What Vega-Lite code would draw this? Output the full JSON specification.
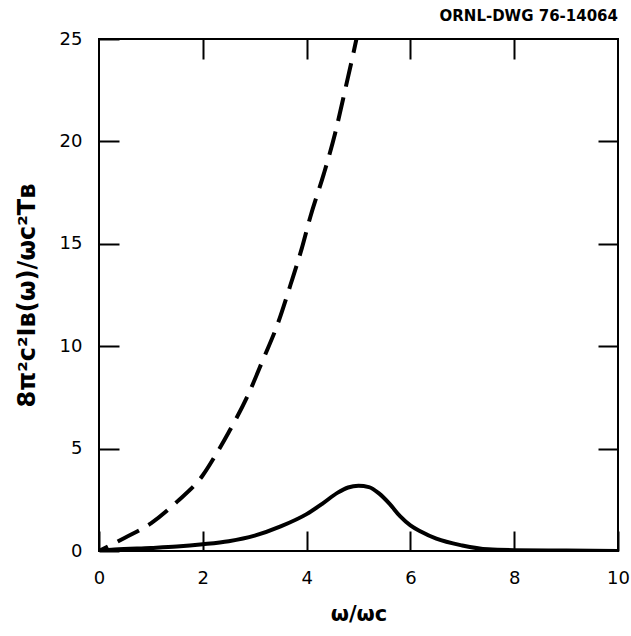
{
  "$schema": "https://vega.github.io/schema/vega-lite/v6.json",
  "autosize": "none",
  "width": 519,
  "height": 512,
  "padding": {"left": 99, "top": 39, "right": 13, "bottom": 85},
  "background": "white",
  "config": {
    "view": {"stroke": "black", "strokeWidth": 2},
    "axis": {"grid": false, "domain": false, "tickColor": "black", "tickWidth": 2, "tickSize": -20,
      "labelFont": "DejaVu Sans", "labelFontSize": 18, "labelColor": "black",
      "titleFont": "DejaVu Sans", "titleFontSize": 21, "titleColor": "black", "titleFontWeight": "bold"}
  },
  "title": {"text": "ORNL-DWG 76-14064", "anchor": "end", "frame": "group", "font": "DejaVu Sans", "fontSize": 15, "fontWeight": "bold", "color": "black", "offset": 6},
  "datasets": {
    "dashed": [
      {"w": 0, "v": 0}, {"w": 0.5, "v": 0.65}, {"w": 1.0, "v": 1.35}, {"w": 1.5, "v": 2.4},
      {"w": 2.0, "v": 3.7}, {"w": 2.25, "v": 4.7}, {"w": 2.5, "v": 5.8}, {"w": 2.85, "v": 7.5},
      {"w": 3.17, "v": 9.4}, {"w": 3.43, "v": 11.0}, {"w": 3.69, "v": 13.0}, {"w": 3.91, "v": 14.8},
      {"w": 4.07, "v": 16.3}, {"w": 4.33, "v": 18.4}, {"w": 4.55, "v": 20.4}, {"w": 4.75, "v": 22.6}, {"w": 4.96, "v": 25},
      {"w": 5.1, "v": 26.8}
    ],
    "solid": [
      {"w": 0, "v": 0}, {"w": 0.3, "v": 0.07}, {"w": 1, "v": 0.15}, {"w": 1.5, "v": 0.22}, {"w": 2, "v": 0.33},
      {"w": 2.5, "v": 0.48}, {"w": 3, "v": 0.75}, {"w": 3.5, "v": 1.2}, {"w": 4, "v": 1.8}, {"w": 4.3, "v": 2.3},
      {"w": 4.6, "v": 2.85}, {"w": 4.8, "v": 3.1}, {"w": 5.0, "v": 3.18}, {"w": 5.2, "v": 3.12}, {"w": 5.4, "v": 2.8},
      {"w": 5.6, "v": 2.3}, {"w": 5.8, "v": 1.7}, {"w": 6.0, "v": 1.25}, {"w": 6.2, "v": 0.95}, {"w": 6.5, "v": 0.6},
      {"w": 7.0, "v": 0.27}, {"w": 7.5, "v": 0.08}, {"w": 8, "v": 0.04}, {"w": 9, "v": 0.02}, {"w": 10, "v": 0.0}
    ]
  },
  "layer": [
    {
      "data": {"name": "dashed"},
      "mark": {"type": "line", "color": "black", "strokeWidth": 4, "strokeDash": [24, 11], "strokeDashOffset": 14, "interpolate": "monotone", "clip": true},
      "encoding": {
        "x": {"field": "w", "type": "quantitative", "scale": {"domain": [0, 10], "nice": false},
          "axis": {"orient": "bottom", "values": [0, 2, 4, 6, 8, 10], "title": "ω/ωᴄ", "labelPadding": 38, "titlePadding": 16, "labelFlush": false}},
        "y": {"field": "v", "type": "quantitative", "scale": {"domain": [0, 25], "nice": false},
          "axis": {"orient": "left", "values": [0, 5, 10, 15, 20, 25], "title": "8π²c²Iʙ(ω)/ωᴄ²Tʙ", "titleFontSize": 24, "labelPadding": 37, "titlePadding": 20, "labelFlush": false}}
      }
    },
    {
      "data": {"name": "solid"},
      "mark": {"type": "line", "color": "black", "strokeWidth": 4, "interpolate": "monotone", "clip": true},
      "encoding": {
        "x": {"field": "w", "type": "quantitative",
          "axis": {"orient": "top", "values": [2, 4, 6, 8], "labels": false, "title": null}},
        "y": {"field": "v", "type": "quantitative",
          "axis": {"orient": "right", "values": [5, 10, 15, 20], "labels": false, "title": null}}
      }
    }
  ],
  "resolve": {"axis": {"x": "independent", "y": "independent"}}
}
